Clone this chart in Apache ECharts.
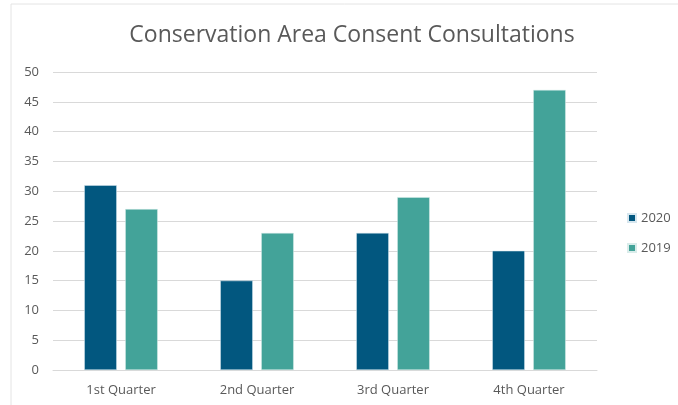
<!DOCTYPE html>
<html>
<head>
<meta charset="utf-8">
<script src="https://cdn.jsdelivr.net/npm/echarts@6/dist/echarts.min.js"></script>
<style>
  html, body { margin: 0; padding: 0; background: #fff; }
  #main { width: 678px; height: 405px; }
</style>
</head>
<body>
<div id="main"></div>
<script>
const categories = ["1st Quarter", "2nd Quarter", "3rd Quarter", "4th Quarter"];
const values2020 = [31, 15, 23, 20];
const values2019 = [27, 23, 29, 47];

let myChart = echarts.init(document.getElementById("main"));

let option = {
  backgroundColor: "#fff",
  animation: false,
  textStyle: { fontFamily: "Open Sans" },
  title: {
    text: "Conservation Area Consent Consultations",
    left: 347,
    top: 19,
    textAlign: "center",
    textStyle: { color: "#595959", fontSize: 23, fontWeight: "normal", fontFamily: "Open Sans" }
  },
  graphic: [
    {
      type: "polyline",
      shape: { points: [[11, 405], [11, 4], [678, 4]] },
      style: { stroke: "#e4e4e4", lineWidth: 1, fill: null }
    }
  ],
  legend: {
    orient: "vertical",
    left: 622,
    top: 204,
    itemWidth: 8,
    itemHeight: 8,
    itemGap: 12,
    icon: "rect",
    data: ["2020", "2019"],
    textStyle: { color: "#595959", fontSize: 13, lineHeight: 18 }
  },
  grid: {
    left: 53,
    right: 81,
    top: 72,
    bottom: 35,
    containLabel: false
  },
  xAxis: [
    {
      type: "category",
      data: categories,
      axisTick: { show: false },
      axisLine: { lineStyle: { color: "#d9d9d9" } },
      axisLabel: { color: "#595959", fontSize: 13, margin: 14 }
    }
  ],
  yAxis: [
    {
      type: "value",
      min: 0,
      max: 50,
      interval: 5,
      axisLine: { show: false },
      axisTick: { show: false },
      splitLine: { lineStyle: { color: "#d9d9d9" } },
      axisLabel: { color: "#595959", fontSize: 13, margin: 14 }
    }
  ],
  series: [
    {
      name: "2020",
      type: "bar",
      data: values2020,
      barGap: "26%",
      barCategoryGap: "46%",
      itemStyle: { color: "#02577f", borderColor: "#d6e6ee", borderWidth: 0.5 }
    },
    {
      name: "2019",
      type: "bar",
      data: values2019,
      itemStyle: { color: "#43a399", borderColor: "#d9ecea", borderWidth: 0.5 }
    }
  ]
};

myChart.setOption(option);
</script>
</body>
</html>
